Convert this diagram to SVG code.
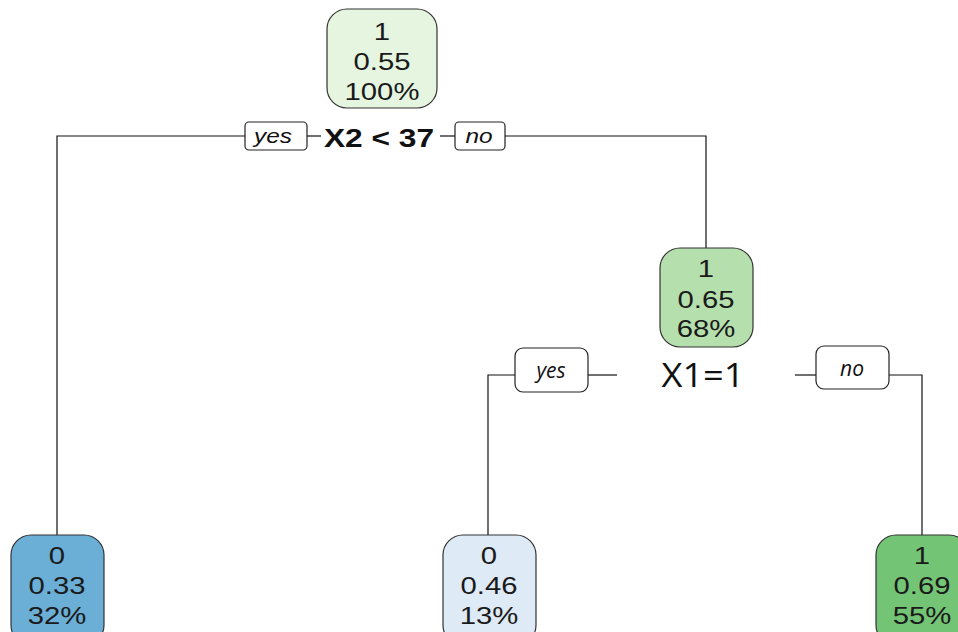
<svg xmlns="http://www.w3.org/2000/svg" width="958" height="632" viewBox="0 0 958 632">
<style>
.node rect{stroke:#333;stroke-width:1.2}
.nt{font-family:"Liberation Sans",Arial,sans-serif;font-size:24px;fill:#1a1a1a;text-anchor:middle}
.lab rect{fill:#fff;stroke:#222;stroke-width:1.2}
.lt{font-family:"Liberation Sans",Arial,sans-serif;font-style:italic;font-size:20px;fill:#111;text-anchor:middle}
.lt2{font-family:"Open Sans","DejaVu Sans",sans-serif;font-style:italic;font-size:21px;fill:#111;text-anchor:middle}
.split1{font-family:"Liberation Sans",Arial,sans-serif;font-weight:bold;font-size:26px;fill:#111;text-anchor:middle}
.split2{font-family:"Open Sans","DejaVu Sans",sans-serif;font-size:33px;fill:#111;text-anchor:middle}
#connectors path{fill:none;stroke:#111;stroke-width:1.2}
</style>
<rect width="958" height="632" fill="#fff"/>
<g id="connectors">
<path d="M245 136 H57 V536"/>
<path d="M307 136 H321"/>
<path d="M440 136 H455"/>
<path d="M505 136 H706 V249"/>
<path d="M515 375 H488 V536"/>
<path d="M588 375 H617"/>
<path d="M795 375 H816"/>
<path d="M889 375 H922 V536"/>
</g>
<g id="n1" class="node">
<rect x="327" y="9" width="110" height="99" rx="20" fill="#e5f5e0"/>
<g transform="translate(382 0) scale(1.22 1)">
<text class="nt" x="0" y="40">1</text>
<text class="nt" x="0" y="70">0.55</text>
<text class="nt" x="0" y="100">100%</text>
</g>
</g>
<g id="split1">
<g transform="translate(379 0) scale(1.22 1)"><text class="split1" x="0" y="147">X2 &lt; 37</text></g>
<g class="lab"><rect x="245" y="122" width="62" height="28" rx="4"/><g transform="translate(273 0) scale(1.22 1)"><text class="lt" x="0" y="143">yes</text></g></g>
<g class="lab"><rect x="455" y="122" width="50" height="28" rx="4"/><g transform="translate(479 0) scale(1.22 1)"><text class="lt" x="0" y="143">no</text></g></g>
</g>
<g id="n2" class="node">
<rect x="660" y="248" width="93" height="99" rx="20" fill="#b5e0ad"/>
<g transform="translate(706 0) scale(1.22 1)">
<text class="nt" x="0" y="277">1</text>
<text class="nt" x="0" y="308">0.65</text>
<text class="nt" x="0" y="337">68%</text>
</g>
</g>
<g id="split2">
<text class="split2" x="703" y="387" textLength="83" lengthAdjust="spacingAndGlyphs">X1=1</text>
<g class="lab"><rect x="515" y="348" width="73" height="44" rx="8"/><text class="lt2" x="551" y="378">yes</text></g>
<g class="lab"><rect x="816" y="346" width="73" height="43" rx="8"/><text class="lt2" x="852" y="376">no</text></g>
</g>
<g id="n3" class="node">
<rect x="11" y="535" width="93" height="110" rx="20" fill="#6baed6"/>
<g transform="translate(57 0) scale(1.22 1)">
<text class="nt" x="0" y="564">0</text>
<text class="nt" x="0" y="594">0.33</text>
<text class="nt" x="0" y="624">32%</text>
</g>
</g>
<g id="n4" class="node">
<rect x="443" y="535" width="93" height="110" rx="20" fill="#deebf7"/>
<g transform="translate(489 0) scale(1.22 1)">
<text class="nt" x="0" y="564">0</text>
<text class="nt" x="0" y="594">0.46</text>
<text class="nt" x="0" y="624">13%</text>
</g>
</g>
<g id="n5" class="node">
<rect x="876" y="535" width="93" height="110" rx="20" fill="#74c476"/>
<g transform="translate(922 0) scale(1.22 1)">
<text class="nt" x="0" y="564">1</text>
<text class="nt" x="0" y="594">0.69</text>
<text class="nt" x="0" y="624">55%</text>
</g>
</g>
</svg>
